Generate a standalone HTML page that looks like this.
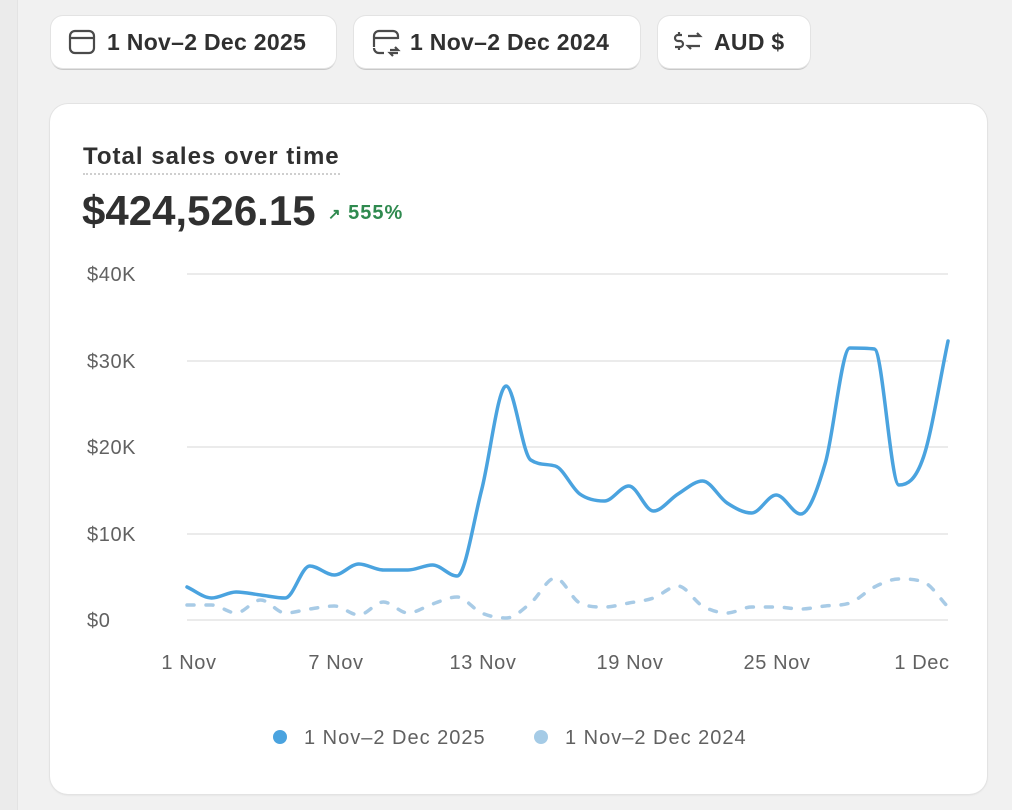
<!DOCTYPE html>
<html><head><meta charset="utf-8"><style>
body{margin:0;width:1012px;height:810px;background:#f1f1f1;font-family:"Liberation Sans",sans-serif;position:relative;overflow:hidden}
.strip{position:absolute;left:0;top:0;width:17px;height:810px;background:#ebebeb;border-right:1px solid #e3e3e3}
.btn{position:absolute;top:16px;height:52px;background:#fff;border-radius:12px;box-shadow:0 0 0 1px #e3e3e3,0 2px 0 #c8c8c8;font-size:23px;color:#303030;line-height:52px;box-sizing:border-box;padding-left:56px;font-weight:bold;letter-spacing:0.3px}
.card{position:absolute;left:50px;top:104px;width:937px;height:690px;background:#fff;border-radius:18px;box-shadow:0 0 0 1px #e3e3e3,0 1px 2px rgba(0,0,0,.1)}
</style></head><body>
<div class="strip"></div>
<div class="btn" style="left:51px;width:285px">1 Nov–2 Dec 2025</div>
<div class="btn" style="left:354px;width:286px">1 Nov–2 Dec 2024</div>
<div class="btn" style="left:658px;width:152px">AUD $</div>
<svg style="position:absolute;left:0;top:0" width="1012" height="810">
<g fill="none" stroke="#4a4a4a" stroke-width="2.2">
<rect x="70" y="31" width="24" height="22" rx="5"/><line x1="70" y1="38" x2="94" y2="38"/>
<path d="M374 47 V36 a5 5 0 0 1 5-5 h14 a5 5 0 0 1 5 5 v3 M374 38 H398 M384 53 h-5 a5 5 0 0 1 -5 -5 M390 50 h8 l-3-3 M398 53 h-8 l3 3"/>
<path d="M682 35 h-4 a3 3 0 0 0 0 6 h2 a3 3 0 0 1 0 6 h-5 M679 32v3 M679 47v3 M688 36 h12 l-3-3 M700 46 h-12 l3 3"/>
</g>
</svg>
<div class="card"></div>
<div style="position:absolute;left:83px;top:143px;font-size:24px;color:#303030;font-weight:bold;letter-spacing:1px">Total sales over time</div>
<div style="position:absolute;left:83px;top:173px;width:257px;border-top:2px dotted #cfcfcf"></div>
<div style="position:absolute;left:82px;top:187px;font-size:42px;color:#303030;font-weight:bold;letter-spacing:0px">$424,526.15</div>
<div style="position:absolute;left:328px;top:202px;font-size:20px;color:#2f8a4f;font-weight:bold;letter-spacing:1px"><span style="font-size:15px">↗</span> 555%</div>
<svg style="position:absolute;left:0;top:0" width="1012" height="810" font-family="Liberation Sans, sans-serif">
<g stroke="#ebebeb" stroke-width="2">
<line x1="187" y1="274" x2="948" y2="274"/><line x1="187" y1="361" x2="948" y2="361"/><line x1="187" y1="447" x2="948" y2="447"/><line x1="187" y1="534" x2="948" y2="534"/><line x1="187" y1="620" x2="948" y2="620"/>
</g>
<g fill="#616161" font-size="20" letter-spacing="0.6">
<text x="87" y="281">$40K</text><text x="87" y="368">$30K</text><text x="87" y="454">$20K</text><text x="87" y="541">$10K</text><text x="87" y="627">$0</text>
<g text-anchor="middle"><text x="189" y="669">1 Nov</text><text x="336" y="669">7 Nov</text><text x="483" y="669">13 Nov</text><text x="630" y="669">19 Nov</text><text x="777" y="669">25 Nov</text><text x="922" y="669">1 Dec</text></g>
<text x="304" y="744" letter-spacing="1">1 Nov–2 Dec 2025</text><text x="565" y="744" letter-spacing="1">1 Nov–2 Dec 2024</text>
</g>
<circle cx="280" cy="737" r="7" fill="#4aa3df"/><circle cx="541" cy="737" r="7" fill="#a5cbe6"/>
<path id="p2" fill="none" stroke="#a8cbe6" stroke-width="3.5" stroke-dasharray="7 12" stroke-linecap="round"/>
<path id="p1" fill="none" stroke="#4aa3df" stroke-width="3.5" stroke-linecap="round"/>
</svg>
<script>
function sm(ys){var n=ys.length,x=ys.map(function(_,i){return 187+i*24.55});var h=24.55;var dl=[],m=[];
for(var i=0;i<n-1;i++)dl.push((ys[i+1]-ys[i])/h);
m[0]=dl[0];m[n-1]=dl[n-2];
for(var i=1;i<n-1;i++){if(dl[i-1]*dl[i]<=0)m[i]=0;else m[i]=(dl[i-1]+dl[i])/2;}
for(var i=0;i<n-1;i++){if(dl[i]==0){m[i]=0;m[i+1]=0;continue;}var a=m[i]/dl[i],b=m[i+1]/dl[i],s=a*a+b*b;if(s>9){var t=3/Math.sqrt(s);m[i]=t*a*dl[i];m[i+1]=t*b*dl[i];}}
var d="M"+x[0]+" "+ys[0];
for(var i=0;i<n-1;i++){d+=" C"+(x[i]+h/3)+" "+(ys[i]+m[i]*h/3)+" "+(x[i+1]-h/3)+" "+(ys[i+1]-m[i+1]*h/3)+" "+x[i+1]+" "+ys[i+1];}return d;}
var a=[587,598,592,595,598,566,575,564,570,570,565,576,490,386,460,466,494,501,486,511,494,481,503,513,495,514,463,348,349,485,457,341];
var b=[605,605,613,600,613,609,606,615,602,613,604,597,613,618,603,578,603,607,603,598,586,606,613,607,607,609,606,603,587,579,582,607];
document.getElementById("p1").setAttribute("d",sm(a));document.getElementById("p2").setAttribute("d",sm(b));
</script>
</body></html>
